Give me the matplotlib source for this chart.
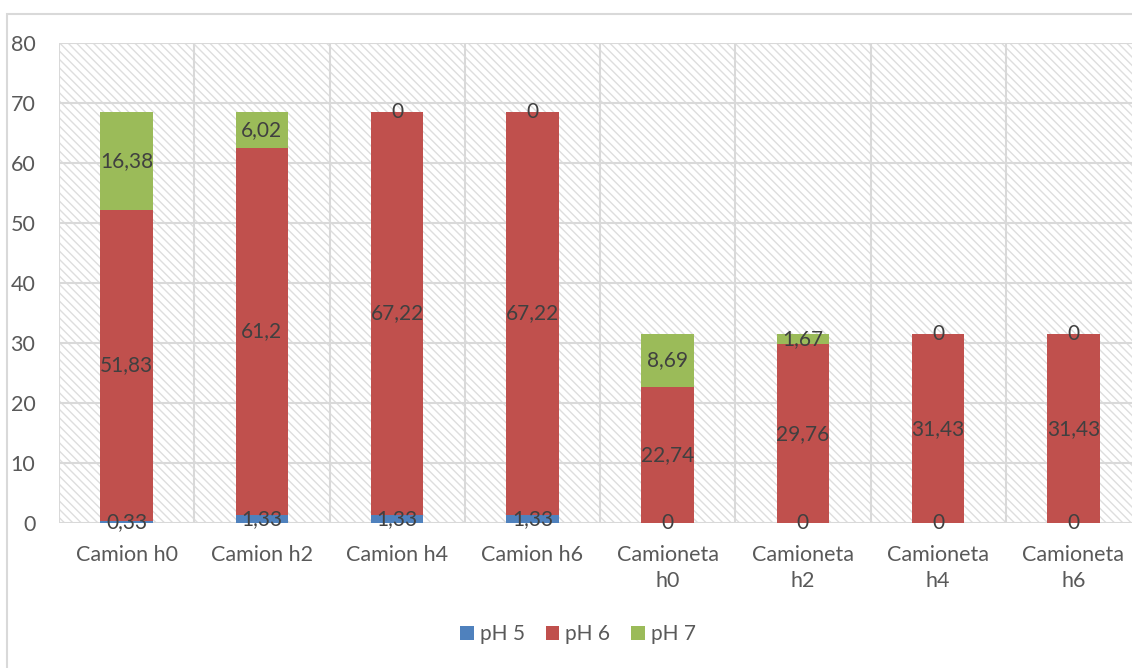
import matplotlib.pyplot as plt
import matplotlib.patches as mpatches
import numpy as np

plt.rcParams['font.family'] = ['Lato', 'DejaVu Sans']
plt.rcParams['hatch.color'] = '#dedede'
plt.rcParams['hatch.linewidth'] = 1.0

categories = ['Camion h0', 'Camion h2', 'Camion h4', 'Camion h6',
              'Camioneta\nh0', 'Camioneta\nh2', 'Camioneta\nh4', 'Camioneta\nh6']
ph5 = [0.33, 1.33, 1.33, 1.33, 0, 0, 0, 0]
ph6 = [51.83, 61.2, 67.22, 67.22, 22.74, 29.76, 31.43, 31.43]
ph7 = [16.38, 6.02, 0, 0, 8.69, 1.67, 0, 0]
series_names = ['pH 5', 'pH 6', 'pH 7']
colors = ['#4f81bd', '#c0504d', '#9bbb59']

GRID = '#d9d9d9'
TEXT = '#595959'

fig = plt.figure(figsize=(11.32, 6.68), dpi=100)

# outer chart border
fig.patches.append(mpatches.Rectangle((7 / 1132, -0.1), 1.1, 1 - 14 / 668 + 0.1,
                                      transform=fig.transFigure, fill=False,
                                      edgecolor=GRID, linewidth=1.5, zorder=0))

ax = fig.add_axes([59 / 1132, 1 - 523 / 668, 1082 / 1132, 480 / 668])
n = len(categories)
x = np.arange(n)

# hatched plot area background
ax.add_patch(mpatches.Rectangle((-0.5, 0), n, 80, facecolor='white',
                                hatch='\\\\\\\\', edgecolor='#dedede', linewidth=0, zorder=0))

for y in range(10, 81, 10):
    ax.axhline(y, color=GRID, linewidth=1.5, zorder=1)
for b in np.arange(-0.5, n + 0.5, 1):
    ax.axvline(b, color=GRID, linewidth=1.5, zorder=1)
ax.axhline(0, color=GRID, linewidth=1.5, zorder=1)

bottom = np.zeros(n)
handles = []
for vals, name, col in zip([ph5, ph6, ph7], series_names, colors):
    vals = np.array(vals, dtype=float)
    bars = ax.bar(x, vals, width=0.39, bottom=bottom, color=col, label=name, zorder=3)
    handles.append(bars)
    for xi, b0, v in zip(x, bottom, vals):
        ax.text(xi, b0 + v / 2, f'{v:g}'.replace('.', ','), ha='center', va='center',
                fontsize=15, color='#404040', zorder=4)
    bottom += vals

ax.set_xlim(-0.5, n - 0.5)
ax.set_ylim(0, 80)
ax.set_yticks(range(0, 81, 10))
ax.set_xticks(x)
ax.set_xticklabels(categories, linespacing=1.35)
ax.tick_params(axis='both', length=0, labelsize=15.5, labelcolor=TEXT)
ax.tick_params(axis='x', pad=16)
ax.tick_params(axis='y', pad=17)
for s in ax.spines.values():
    s.set_visible(False)

fig.legend(handles=handles, labels=series_names, loc='center', ncol=3,
           bbox_to_anchor=(578 / 1132, 1 - 634 / 668), frameon=False,
           fontsize=15, labelcolor=TEXT, handlelength=0.65, handleheight=0.65,
           handletextpad=0.3, columnspacing=1.0)

fig.savefig('out.png', dpi=100)
